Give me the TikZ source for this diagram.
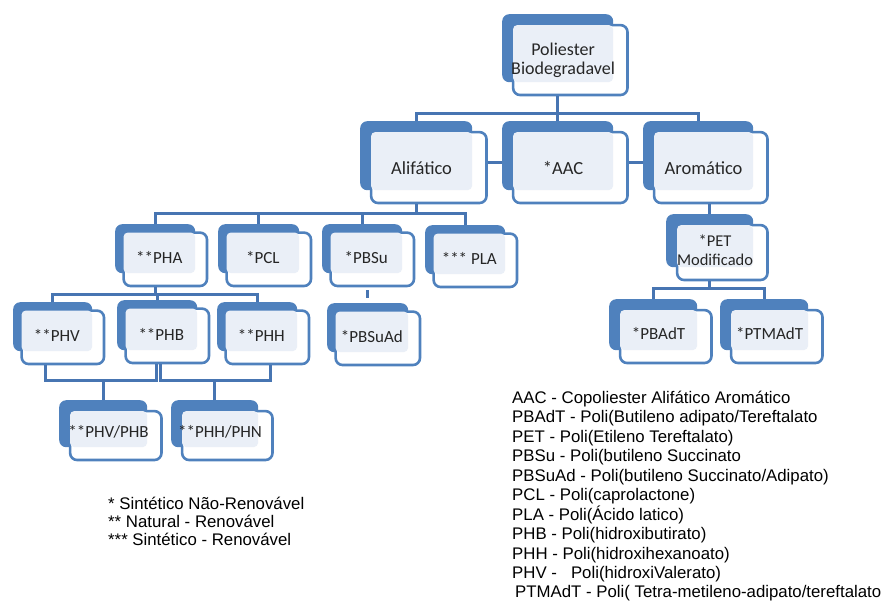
\documentclass[tikz,border=0pt]{standalone}
\usepackage{fontspec}
\newfontfamily\boxfont{Carlito}
\newfontfamily\legfont{Liberation Sans}
\usetikzlibrary{calc}
\definecolor{smblue}{HTML}{4F81BD}
\definecolor{smline}{HTML}{4775B2}
\definecolor{smlight}{HTML}{EAEFF7}
\definecolor{smtext}{HTML}{262626}
\tikzset{
  backbox/.style={fill=smblue, rounded corners=7pt, inner sep=0pt, anchor=north west},
  frontbox/.style={draw=smblue, line width=2.6pt, fill=white, rounded corners=7pt, inner sep=0pt, anchor=north west},
  boxtext/.style={text=smtext, align=center, inner sep=0pt},
  conn/.style={draw=smline, line width=3pt},
  legend/.style={font=\legfont\fontsize{16.8}{19.5}\selectfont, text=black, inner sep=0pt, anchor=base west}
}

\begin{document}
\begin{tikzpicture}[x=1pt, y=-1pt]
\useasboundingbox (0,0) rectangle (886,606);
\foreach \nm/\x/\y/\w/\h/\fs/\txt in {root/502/14/111/68/18/{Poliester\\Biodegradavel},
  alif/360/121/112/69/18.5/{Alifático},
  aac/502/121/111/69/18.5/{*AAC},
  arom/643/121/110/69/18.5/{Aromático},
  pha/115/224/80/49/17/{**PHA},
  pcl/218/224/81/49/17/{*PCL},
  pbsu/322/224/80/49/17/{*PBSu},
  pla/425/225/80/49/17/{*** PLA},
  pet/666/214/87/53/16.5/{*PET\\Modificado},
  phv/13/302/79/49/17/{**PHV},
  phb/117/300/80/50/17/{**PHB},
  phh/217/302/80/49/17/{**PHH},
  pbsuad/327/303/81/49/17/{*PBSuAd},
  pbadt/609/299/88/51/17/{*PBAdT},
  ptmadt/720/299/88/51/17/{*PTMAdT},
  phvphb/59/400/88/47/17/{**PHV/PHB},
  phhphn/171/400/87/47/17/{**PHH/PHN}}{
  \pgfmathsetmacro\offs{\w<85 ? 6 : 8.5}
  \pgfmathsetmacro\ext{\w<85 ? 12 : 14.5}
  \node[backbox, minimum width=\w, minimum height=\h] (\nm) at (\x,\y) {};
  \node[frontbox, minimum width=\w+\ext-\offs-2.6, minimum height=\h+10.4-\offs] (fr\nm) at (\x+\offs+1.3,\y+\offs+1.3) {};
  \fill[smlight, rounded corners=4pt] (\x+\offs+2.6,\y+\offs+2.6) rectangle (\x+\w,\y+\h);
  \node[boxtext, font=\boxfont\fontsize{\fs}{18.5}\selectfont] (tx\nm) at ({\x+(\w+\offs+2.6)/2},{\y+0.68*\h}) {\txt};
}

\draw[conn] (alif.north) -- ++(0,-8) coordinate (bus1) -| (arom.north);
\draw[conn] (root.south |- frroot.south) -- (aac.north);
\draw[conn] (fralif.east) ++(0,-5) coordinate (s1) -- (s1 -| aac.west);
\draw[conn] (fraac.east) ++(0,-5) coordinate (s2) -- (s2 -| arom.west);

\draw[conn] (pha.north) -- ++(0,-11) coordinate (bus2) -| (pla.north);
\draw[conn] (alif.south |- fralif.south) -- (alif.south |- bus2);
\draw[conn] (pcl.north) -- (pcl.north |- bus2);
\draw[conn] (pbsu.north) -- (pbsu.north |- bus2);

\draw[conn] (phv.north) -- ++(0,-8) coordinate (bus3) -| (phh.north);
\draw[conn] (pha.south |- frpha.south) -- (pha.south |- bus3);
\draw[conn] (phb.north) -- (phb.north |- bus3);

\coordinate (phvout) at ([xshift=-17pt]frphv.south);
\coordinate (phbl) at ([xshift=-11pt]frphb.south);
\coordinate (phbr) at ([xshift=-7pt]frphb.south);
\coordinate (phhout) at ([xshift=3.5pt]frphh.south);
\draw[conn] (phvphb.north) -- ++(0,-20) coordinate (bus4);
\draw[conn] (phvout) |- (bus4) -| (phbl);
\draw[conn] (phhphn.north) -- ++(0,-20) coordinate (bus5);
\draw[conn] (phbr) |- (bus5) -| (phhout);

\draw[conn] (frpbsu.south -| pbsuad.north) ++(0,3) -- ([yshift=5pt]pbsuad.north);

\draw[conn] (pet.north) -- (pet.north |- frarom.south);
\draw[conn] (pbadt.north) -- ++(0,-11) coordinate (bus6) -| (ptmadt.north);
\draw[conn] (pet.south |- frpet.south) -- (pet.south |- bus6);

\foreach \t [count=\i] in {* Sintético Não-Renovável, ** Natural - Renovável, *** Sintético - Renovável}
  \node[legend] (key\i) at (108,{509+18*(\i-1)}) {\t};

\foreach \t [count=\i] in {AAC - Copoliester Alifático Aromático,
  PBAdT - Poli(Butileno adipato/Tereftalato,
  PET - Poli(Etileno Tereftalato),
  PBSu - Poli(butileno Succinato,
  PBSuAd - Poli(butileno Succinato/Adipato),
  PCL - Poli(caprolactone),
  PLA - Poli(Ácido latico),
  PHB - Poli(hidroxibutirato),
  PHH - Poli(hidroxihexanoato),
  PHV -\ \ \ Poli(hidroxiValerato)}
  \node[legend] (def\i) at (512,{403+19.5*(\i-1)}) {\t};
\node[legend] (defptm) at (515,597) {PTMAdT - Poli( Tetra-metileno-adipato/tereftalato};
\end{tikzpicture}
\end{document}
